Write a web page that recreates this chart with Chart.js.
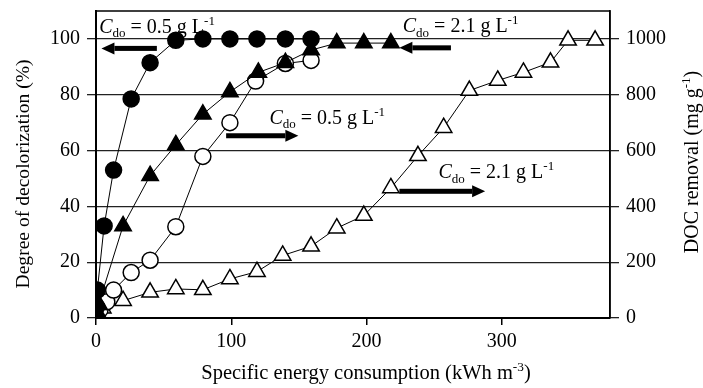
<!DOCTYPE html>
<html>
<head>
<meta charset="utf-8">
<script src="https://cdn.jsdelivr.net/npm/chart.js@4/dist/chart.umd.min.js"></script>
<style>
  html, body { margin: 0; padding: 0; background: #fff; }
</style>
</head>
<body>
<canvas id="grafico" width="703" height="388"></canvas>
<script>
// eixo x compartilhado: consumo específico de energia (kWh m-3)
const xTicks = [0, 100, 200, 300];
const yTicks = [0, 20, 40, 60, 80, 100];
const y1Ticks = [0, 200, 400, 600, 800, 1000];

// descoloração (%) - C = 0.5 g/L (círculos cheios)
const decol05X = [0, 0.5, 1, 6, 13, 26, 40, 59, 79, 99, 119, 140, 159];
const decol05Y = [0, 4, 10, 33, 53, 78.5, 91.5, 99.5, 100, 100, 100, 100, 100];

// descoloração (%) - C = 2.1 g/L (triângulos cheios)
const decol21X = [0, 1, 2, 20, 40, 59, 79, 99, 120, 140, 159, 178, 198, 218];
const decol21Y = [0, 2, 5, 33, 51, 62, 73, 81, 88, 91.5, 96, 98.5, 98.5, 98.5];

// remoção de COD (mg/g) - C = 0.5 g/L (círculos vazios)
const doc05X = [0, 3, 8, 13, 26, 40, 59, 79, 99, 118, 140, 159];
const doc05Y = [0, 30, 58, 100, 163, 207, 327, 579, 700, 849, 912, 923];

// remoção de COD (mg/g) - C = 2.1 g/L (triângulos vazios)
const doc21X = [0, 5, 20, 40, 59, 79, 99, 119, 138, 159, 178, 198, 218, 238, 257, 276, 297, 316, 336, 349, 369];
const doc21Y = [0, 35, 62, 92, 104, 101, 140, 166, 224, 257, 322, 367, 466, 581, 682, 815, 851, 880, 916, 995, 995];

// anotações: posição do texto e da seta (em unidades dos eixos x / y)
const anotTexto = ["0.5", "2.1", "0.5", "2.1"];
const anotX = [2.4, 226.8, 128.2, 253.2];
const anotY = [102.1, 102.4, 69.6, 50.1];
const setaInicio = [45, 262.4, 96.2, 224.3];
const setaFim = [4, 224.3, 149.6, 287.7];
const setaY = [96.6, 96.8, 65.3, 45.4];

const fonte = '"Liberation Serif", "Times New Roman", serif';
Chart.defaults.font.family = fonte;
Chart.defaults.font.size = 20;
Chart.defaults.color = "#000";

function pontos(xs, ys) {
  return xs.map((x, i) => ({ x, y: ys[i] }));
}

function serie(label, xs, ys, eixo, estilo, cheio, raio) {
  return {
    label,
    data: pontos(xs, ys),
    yAxisID: eixo,
    showLine: true,
    borderColor: "#000",
    borderWidth: 1,
    pointStyle: estilo,
    pointRadius: raio,
    pointHoverRadius: raio,
    pointBorderWidth: 1.5,
    pointBorderColor: "#000",
    pointBackgroundColor: cheio ? "#000" : "#fff"
  };
}

// escreve partes de texto com itálico, subscrito e sobrescrito
function escreverTexto(ctx, x, y, partes, tamanho) {
  ctx.save();
  ctx.textBaseline = "alphabetic";
  ctx.textAlign = "left";
  ctx.fillStyle = "#000";
  let cx = x;
  partes.forEach(p => {
    let t = tamanho, dy = 0, estilo = "";
    if (p.tipo === "i") estilo = "italic ";
    if (p.tipo === "sub") { t = tamanho * 0.65; dy = tamanho * 0.22; }
    if (p.tipo === "sup") { t = tamanho * 0.65; dy = -tamanho * 0.4; }
    ctx.font = estilo + t + "px " + fonte;
    ctx.fillText(p.t, cx, y + dy);
    cx += ctx.measureText(p.t).width;
  });
  ctx.restore();
  return cx - x;
}

function larguraTexto(ctx, partes, tamanho) {
  ctx.save();
  let w = 0;
  partes.forEach(p => {
    let t = tamanho, estilo = "";
    if (p.tipo === "i") estilo = "italic ";
    if (p.tipo === "sub" || p.tipo === "sup") t = tamanho * 0.65;
    ctx.font = estilo + t + "px " + fonte;
    w += ctx.measureText(p.t).width;
  });
  ctx.restore();
  return w;
}

function desenharSeta(ctx, x1, x2, y) {
  const dir = x2 > x1 ? 1 : -1;
  const cabeca = 13;
  ctx.save();
  ctx.fillStyle = "#000";
  ctx.fillRect(Math.min(x1, x2 - dir * cabeca), y - 2.5, Math.abs(x2 - dir * cabeca - x1), 5);
  ctx.beginPath();
  ctx.moveTo(x2, y);
  ctx.lineTo(x2 - dir * cabeca, y - 6);
  ctx.lineTo(x2 - dir * cabeca, y + 6);
  ctx.closePath();
  ctx.fill();
  ctx.restore();
}

const extras = {
  id: "extras",
  afterDatasetsDraw(chart) {
    const ctx = chart.ctx;
    const area = chart.chartArea;
    const sx = chart.scales.x;
    const sy = chart.scales.y;

    // moldura superior e direita
    ctx.save();
    ctx.strokeStyle = "#000";
    ctx.lineWidth = 1.5;
    ctx.beginPath();
    ctx.moveTo(area.left, area.top);
    ctx.lineTo(area.right, area.top);
    ctx.lineTo(area.right, area.bottom);
    ctx.stroke();
    ctx.restore();

    // anotações com setas
    anotTexto.forEach((v, i) => {
      escreverTexto(ctx, sx.getPixelForValue(anotX[i]), sy.getPixelForValue(anotY[i]), [
        { t: "C", tipo: "i" },
        { t: "do", tipo: "sub" },
        { t: " = " + v + " g L" },
        { t: "-1", tipo: "sup" }
      ], 20);
      desenharSeta(ctx, sx.getPixelForValue(setaInicio[i]), sx.getPixelForValue(setaFim[i]), sy.getPixelForValue(setaY[i]));
    });

    // título do eixo x
    const tituloX = [
      { t: "Specific energy consumption (kWh m" },
      { t: "-3", tipo: "sup" },
      { t: ")" }
    ];
    const wx = larguraTexto(ctx, tituloX, 20.5);
    escreverTexto(ctx, 366 - wx / 2, 379, tituloX, 20.5);

    // título do eixo y esquerdo
    const tituloY = [{ t: "Degree of decolorization (%)" }];
    ctx.save();
    ctx.translate(29, 174);
    ctx.rotate(-Math.PI / 2);
    const wy = larguraTexto(ctx, tituloY, 19.6);
    escreverTexto(ctx, -wy / 2, 0, tituloY, 19.6);
    ctx.restore();

    // título do eixo y direito
    const tituloY1 = [
      { t: "DOC removal (mg g" },
      { t: "-1", tipo: "sup" },
      { t: ")" }
    ];
    ctx.save();
    ctx.translate(698, 162);
    ctx.rotate(-Math.PI / 2);
    const wy1 = larguraTexto(ctx, tituloY1, 20);
    escreverTexto(ctx, -wy1 / 2, 0, tituloY1, 20);
    ctx.restore();
  }
};

new Chart(document.getElementById("grafico"), {
  type: "scatter",
  data: {
    datasets: [
      serie("Decolorization 0.5", decol05X, decol05Y, "y", "circle", true, 8),
      serie("Decolorization 2.1", decol21X, decol21Y, "y", "triangle", true, 9.5),
      serie("DOC 0.5", doc05X, doc05Y, "y1", "circle", false, 8),
      serie("DOC 2.1", doc21X, doc21Y, "y1", "triangle", false, 9.5)
    ]
  },
  options: {
    responsive: false,
    animation: false,
    devicePixelRatio: 1,
    layout: { padding: { top: 11, left: 0, right: 0, bottom: 0 } },
    plugins: {
      legend: { display: false },
      tooltip: { enabled: false }
    },
    scales: {
      x: {
        type: "linear",
        min: 0,
        max: 380,
        afterBuildTicks: s => { s.ticks = xTicks.map(v => ({ value: v })); },
        afterFit: s => { s.height = 70; },
        grid: { drawOnChartArea: false, tickLength: 7, color: "#000", lineWidth: 1.5 },
        border: { color: "#000", width: 2 },
        ticks: { padding: 5, maxRotation: 0 }
      },
      y: {
        position: "left",
        min: 0,
        max: 110,
        afterBuildTicks: s => { s.ticks = yTicks.map(v => ({ value: v })); },
        afterFit: s => { s.width = 96; },
        grid: { color: "#222", lineWidth: 1.3, tickLength: 9 },
        border: { color: "#000", width: 2 },
        ticks: { padding: 7, font: { size: 20, lineHeight: 0.3 } }
      },
      y1: {
        position: "right",
        min: 0,
        max: 1100,
        afterBuildTicks: s => { s.ticks = y1Ticks.map(v => ({ value: v })); },
        afterFit: s => { s.width = 93; },
        grid: { drawOnChartArea: false, tickLength: 9, color: "#222", lineWidth: 1.3 },
        border: { color: "#000", width: 1.5 },
        ticks: { padding: 7, font: { size: 20, lineHeight: 0.3 }, callback: v => String(v) }
      }
    }
  },
  plugins: [extras]
});
</script>
</body>
</html>
